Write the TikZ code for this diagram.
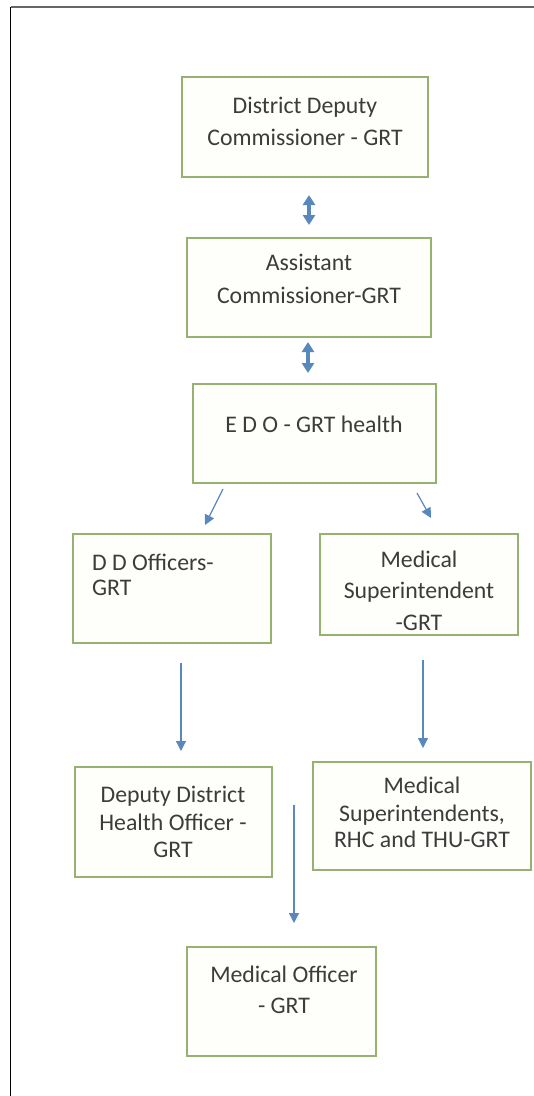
\documentclass[tikz,border=0pt]{standalone}
\usepackage{fontspec}
\setmainfont{Carlito}
\usetikzlibrary{arrows.meta}
\definecolor{boxline}{RGB}{150,178,112}
\definecolor{boxfill}{RGB}{254,255,250}
\definecolor{arrblue}{RGB}{88,136,190}
\definecolor{txtgray}{RGB}{60,60,60}
\tikzset{
  orgbox/.style={draw=boxline, fill=boxfill, line width=1.5pt, inner sep=0pt},
  txt/.style={anchor=base, inner sep=0pt, text=txtgray, font=\fontsize{23.8}{28}\selectfont},
  txtl/.style={txt, anchor=base west},
  arr/.style={draw=arrblue, line width=1.2pt, -{Triangle[width=10pt,length=10pt]}},
  dblarr/.style={draw=arrblue, line width=4pt, {Triangle[width=12pt,length=10pt]}-{Triangle[width=12pt,length=10pt]}},
}
\begin{document}
\begin{tikzpicture}[x=1pt,y=-1pt]
\useasboundingbox (0,0) rectangle (534,1096);
\fill[white] (0,0) rectangle (534,1096);
% page frame
\coordinate (fTL) at (10.5,6.5);
\coordinate (fTR) at (534,6.5);
\coordinate (fBL) at (10.5,1096);
\draw[gray!80!black, line width=2pt] (fTL) -- (fTR);
\draw[black, line width=1.2pt] (fTL) -- (fBL);

% boxes
\node[orgbox, minimum width=246pt, minimum height=100pt] (b1) at (305,127) {};
\node[orgbox, minimum width=244pt, minimum height=99pt] (b2) at (309,287.5) {};
\node[orgbox, minimum width=243pt, minimum height=99pt] (b3) at (314.5,433.5) {};
\node[orgbox, minimum width=198pt, minimum height=109pt] (b4) at (172,588.5) {};
\node[orgbox, minimum width=198pt, minimum height=101pt] (b5) at (419,584.5) {};
\node[orgbox, minimum width=197pt, minimum height=110pt] (b7) at (173.5,822) {};
\node[orgbox, minimum width=218pt, minimum height=108pt] (b8) at (422,816) {};
\node[orgbox, minimum width=189pt, minimum height=109pt] (b10) at (281.5,1001.5) {};

% texts
\node[txt] (t1a) at (305,113) {District Deputy};
\node[txt] (t1b) at (305,145) {Commissioner - GRT};
\node[txt] (t2a) at (309,270) {Assistant};
\node[txt] (t2b) at (309,303) {Commissioner-GRT};
\node[txt] (t3a) at (314,432) {E D O - GRT health};
\node[txtl] (t4a) at (92,570) {D D Officers-};
\node[txtl] (t4b) at (92,595) {GRT};
\node[txt] (t5a) at (419,567) {Medical};
\node[txt] (t5b) at (419,598) {Superintendent};
\node[txt] (t5c) at (419,630) {-GRT};
\node[txt] (t7a) at (173,802) {Deputy District};
\node[txt] (t7b) at (173,830) {Health Officer -};
\node[txt] (t7c) at (173,857) {GRT};
\node[txt] (t8a) at (422,793) {Medical};
\node[txt] (t8b) at (422,821) {Superintendents,};
\node[txt] (t8c) at (422,847) {RHC and THU-GRT};
\node[txt] (t10a) at (284,982) {Medical Officer};
\node[txt] (t10b) at (284,1013) {- GRT};

% arrow end points
\coordinate (d1s) at (309,195);
\coordinate (d1e) at (309,225);
\coordinate (d2s) at (308,342);
\coordinate (d2e) at (308,373);
\coordinate (l1s) at (223,489);
\coordinate (l1e) at (205,525);
\coordinate (r1s) at (417,493);
\coordinate (r1e) at (431,518);
\coordinate (l2s) at (181,663);
\coordinate (l2e) at (181,751);
\coordinate (r2s) at (423,660);
\coordinate (r2e) at (423,748);
\coordinate (m1s) at (294,805);
\coordinate (m1e) at (294,923);

% arrows
\draw[dblarr] (d1s) -- (d1e);
\draw[dblarr] (d2s) -- (d2e);
\draw[arr] (l1s) -- (l1e);
\draw[arr] (r1s) -- (r1e);
\draw[arr] (l2s) -- (l2e);
\draw[arr] (r2s) -- (r2e);
\draw[arr] (m1s) -- (m1e);
\end{tikzpicture}
\end{document}
